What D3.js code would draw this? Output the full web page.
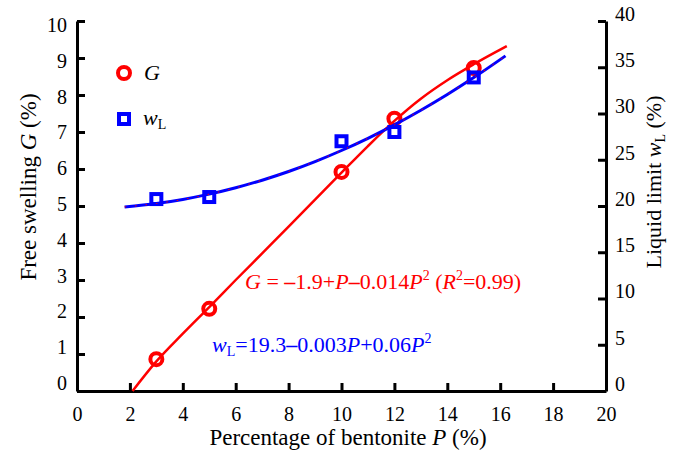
<!DOCTYPE html>
<html>
<head>
<meta charset="utf-8">
<script src="https://cdn.jsdelivr.net/npm/d3@7"></script>
<style>
  html, body { margin: 0; padding: 0; background: #fff; }
</style>
</head>
<body>
<svg id="chart" width="680" height="453"></svg>
<script>
// Measured samples: bentonite content P (%), free swelling G (%), liquid limit wL (%)
const bentonite = [3, 5, 10, 12, 15];
const swelling = [0.86, 2.22, 5.92, 7.36, 8.73];
const liquidLimit = [20.75, 20.97, 27.0, 28.0, 33.9];

// Regression curves traced along P
const fitP_G = [2.1, 3, 4, 5, 6, 7, 8, 9, 10, 11, 12, 13, 14, 15, 16.25];
const fitG = [0, 0.80, 1.55, 2.27, 3.0, 3.72, 4.44, 5.17, 5.9, 6.62, 7.3, 7.9, 8.4, 8.83, 9.32];
const fitP_W = [1.8, 3, 4, 5, 6, 7, 8, 9, 10, 11, 12, 13, 14, 15, 16.2];
const fitW = [19.9, 20.27, 20.71, 21.28, 21.97, 22.79, 23.73, 24.8, 26.0, 27.32, 28.77, 30.35, 32.05, 33.88, 36.23];

// Axis ticks
const xTicks = [0, 2, 4, 6, 8, 10, 12, 14, 16, 18, 20];
const gTicks = [0, 1, 2, 3, 4, 5, 6, 7, 8, 9, 10];
const wTicks = [0, 5, 10, 15, 20, 25, 30, 35, 40];

const RED = "#ff0000", BLUE = "#0000ff";
const SERIF = "\"Liberation Serif\", \"Times New Roman\", serif";
const plotLeft = 77, plotRight = 606, plotTop = 21, plotBottom = 391;

const svg = d3.select("#chart");
const x = d3.scaleLinear().domain([0, 20]).range([plotLeft, plotRight]);
const yG = d3.scaleLinear().domain([0, 10]).range([plotBottom, plotTop]);
const yW = d3.scaleLinear().domain([0, 40]).range([plotBottom, plotTop]);

// Axes with inward ticks
function styleAxis(g) {
  g.select(".domain").attr("stroke", "#000").attr("stroke-width", 3);
  g.selectAll(".tick line").attr("stroke", "#000").attr("stroke-width", 3);
  g.selectAll(".tick text").attr("fill", "#000").style("font-size", "20px").style("font-family", SERIF);
}

const xAxis = svg.append("g").attr("transform", `translate(0,${plotBottom})`)
  .call(d3.axisBottom(x).tickValues(xTicks).tickSize(-8).tickSizeOuter(0).tickPadding(16).tickFormat(d3.format("d")));
styleAxis(xAxis);

const gAxis = svg.append("g").attr("transform", `translate(${plotLeft},0)`)
  .call(d3.axisLeft(yG).tickValues(gTicks).tickSize(-8).tickSizeOuter(0).tickPadding(10).tickFormat(d3.format("d")));
styleAxis(gAxis);
// labels sit slightly above their ticks, drifting upward toward the origin
gAxis.selectAll(".tick text").attr("dy", d => (0.32 * 20 - 8 + 12 * d / 10) + "px");

const wAxis = svg.append("g").attr("transform", `translate(${plotRight},0)`)
  .call(d3.axisRight(yW).tickValues(wTicks).tickSize(-8).tickSizeOuter(0).tickPadding(9).tickFormat(d3.format("d")));
styleAxis(wAxis);
wAxis.selectAll(".tick text").attr("dy", (0.32 * 20 - 7) + "px");

function label(sel, size) {
  return sel.append("text").style("font-family", SERIF).style("font-size", size + "px");
}

// Axis titles
label(svg, 23).attr("x", 348).attr("y", 445).attr("text-anchor", "middle")
  .call(t => {
    t.append("tspan").text("Percentage of bentonite ");
    t.append("tspan").attr("font-style", "italic").text("P");
    t.append("tspan").text(" (%)");
  });

label(svg, 23).attr("transform", "translate(36,187) rotate(-90)").attr("text-anchor", "middle")
  .call(t => {
    t.append("tspan").text("Free swelling ");
    t.append("tspan").attr("font-style", "italic").text("G");
    t.append("tspan").text(" (%)");
  });

label(svg, 22).attr("transform", "translate(661,182) rotate(-90)").attr("text-anchor", "middle")
  .call(t => {
    t.append("tspan").text("Liquid limit ");
    t.append("tspan").attr("font-style", "italic").text("w");
    t.append("tspan").style("font-size", "14px").attr("dy", 4).text("L");
    t.append("tspan").attr("dy", -4).text(" (%)");
  });

// Marker helpers
function circleMarker(sel, cx, cy) {
  sel.append("circle").attr("cx", cx).attr("cy", cy).attr("r", 6)
    .attr("fill", "none").attr("stroke", RED).attr("stroke-width", 4);
}
function squareMarker(sel, cx, cy) {
  sel.append("rect").attr("x", cx - 5).attr("y", cy - 5).attr("width", 10).attr("height", 10)
    .attr("fill", "none").attr("stroke", BLUE).attr("stroke-width", 4);
}

const gPts = bentonite.map((p, i) => ({ p, v: swelling[i] }));
const wPts = bentonite.map((p, i) => ({ p, v: liquidLimit[i] }));

// Free swelling markers and curve
const circles = svg.append("g");
gPts.forEach(d => circleMarker(circles, x(d.p), yG(d.v)));

const lineG = d3.line().x(d => x(d.p)).y(d => yG(d.v)).curve(d3.curveMonotoneX);
svg.append("path").datum(fitP_G.map((p, i) => ({ p, v: fitG[i] })))
  .attr("d", lineG).attr("fill", "none").attr("stroke", RED).attr("stroke-width", 2.5);

// Liquid limit markers and curve
const squares = svg.append("g");
wPts.forEach(d => squareMarker(squares, x(d.p), yW(d.v)));

const lineW = d3.line().x(d => x(d.p)).y(d => yW(d.v)).curve(d3.curveMonotoneX);
const wData = fitP_W.map((p, i) => ({ p, v: fitW[i] }));
svg.append("path").datum(wData).attr("d", lineW)
  .attr("fill", "none").attr("stroke", BLUE).attr("stroke-width", 3);
svg.append("path").datum(wData).attr("d", lineW)
  .attr("fill", "none").attr("stroke", RED).attr("stroke-width", 1)
  .attr("stroke-dasharray", "1.5,9");

// Legend
const legend = svg.append("g");
circleMarker(legend, 124, 73);
label(legend, 22).attr("x", 144).attr("y", 80).attr("font-style", "italic").text("G");
squareMarker(legend, 124, 119);
label(legend, 22).attr("x", 143).attr("y", 125)
  .call(t => {
    t.append("tspan").attr("font-style", "italic").text("w");
    t.append("tspan").style("font-size", "14px").attr("dy", 4).text("L");
  });

// Regression equations
label(svg, 22).attr("x", 245).attr("y", 289).attr("fill", RED)
  .call(t => {
    t.append("tspan").attr("font-style", "italic").text("G");
    t.append("tspan").text(" = ");
    t.append("tspan").attr("font-weight", "bold").text("–");
    t.append("tspan").text("1.9+");
    t.append("tspan").attr("font-style", "italic").text("P");
    t.append("tspan").attr("font-weight", "bold").text("–");
    t.append("tspan").text("0.014");
    t.append("tspan").attr("font-style", "italic").text("P");
    t.append("tspan").style("font-size", "14px").attr("dy", -9).text("2");
    t.append("tspan").attr("dy", 9).text(" (");
    t.append("tspan").attr("font-style", "italic").text("R");
    t.append("tspan").style("font-size", "14px").attr("dy", -9).text("2");
    t.append("tspan").attr("dy", 9).text("=0.99)");
  });

label(svg, 22).attr("x", 212).attr("y", 352).attr("fill", BLUE)
  .call(t => {
    t.append("tspan").attr("font-style", "italic").text("w");
    t.append("tspan").style("font-size", "14px").attr("dy", 4).text("L");
    t.append("tspan").attr("dy", -4).text("=19.3");
    t.append("tspan").attr("font-weight", "bold").text("–");
    t.append("tspan").text("0.003");
    t.append("tspan").attr("font-style", "italic").text("P");
    t.append("tspan").text("+0.06");
    t.append("tspan").attr("font-style", "italic").text("P");
    t.append("tspan").style("font-size", "14px").attr("dy", -9).text("2");
  });
</script>
</body>
</html>
